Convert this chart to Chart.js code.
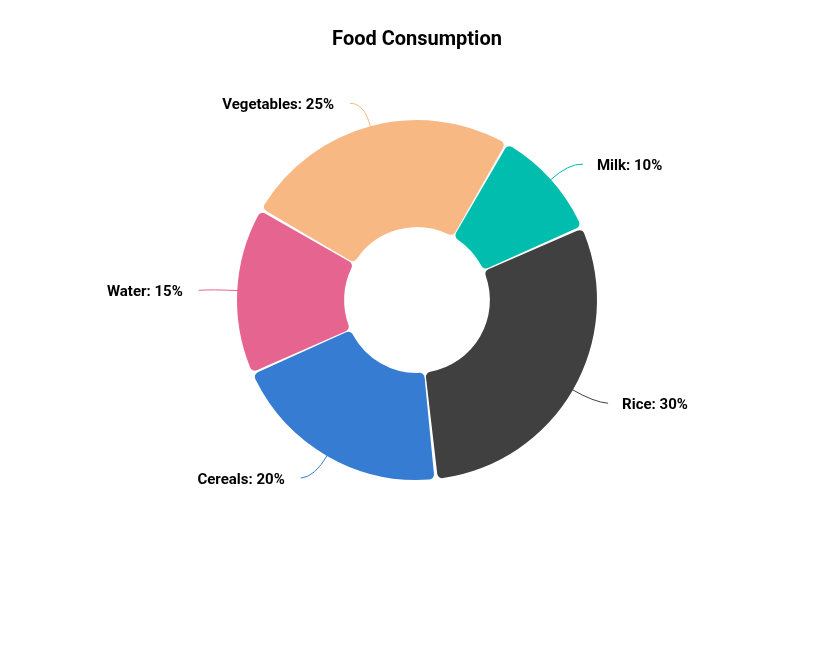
<!DOCTYPE html>
<html><head><meta charset="utf-8">
<script src="https://cdn.jsdelivr.net/npm/chart.js@4.4.1/dist/chart.umd.min.js"></script>
<style>html,body{margin:0;padding:0;background:#fff;}#wrap{width:818px;height:646px;}</style>
</head><body><div id="wrap"><canvas id="c" width="818" height="646"></canvas></div>
<script>
const categories = ['Milk', 'Rice', 'Cereals', 'Water', 'Vegetables'];
const values = [10, 30, 20, 15, 25];
const colors = ['#00BDAE', '#404041', '#357CD2', '#E56590', '#F8B883'];
const titleText = 'Food Consumption';

const labelPlugin = {
  id: 'outsideLabels',
  afterDatasetsDraw(chart) {
    const ctx = chart.ctx;
    const meta = chart.getDatasetMeta(0);
    const total = values.reduce((a, b) => a + b, 0);
    ctx.save();
    meta.data.forEach((arc, i) => {
      const p = arc.getProps(['x', 'y', 'startAngle', 'endAngle', 'outerRadius'], true);
      const mid = (p.startAngle + p.endAngle) / 2;
      const cx = Math.cos(mid), cy = Math.sin(mid);
      const r0 = p.outerRadius;
      const sx = p.x + cx * r0, sy = p.y + cy * r0;
      const ex = p.x + cx * (r0 + 26), ey = p.y + cy * (r0 + 26);
      const right = cx >= 0;
      const fx = ex + (right ? 14 : -14), fy = ey + 1;
      ctx.strokeStyle = colors[i];
      ctx.lineWidth = 1;
      ctx.beginPath();
      ctx.moveTo(sx, sy);
      ctx.quadraticCurveTo(ex, ey, fx, fy);
      ctx.stroke();
      ctx.fillStyle = '#000';
      ctx.font = 'bold 15px Roboto';
      ctx.textBaseline = 'middle';
      ctx.textAlign = right ? 'left' : 'right';
      const pct = Math.round(values[i] / total * 100);
      ctx.fillText(categories[i] + ': ' + pct + '%', fx + (right ? 14 : -16), fy + 2);
    });
    ctx.restore();
  }
};

new Chart(document.getElementById('c'), {
  type: 'doughnut',
  data: {
    labels: categories,
    datasets: [{
      data: values,
      backgroundColor: colors,
      borderWidth: 0,
      spacing: 3,
      borderRadius: 5,
      hoverOffset: 0
    }]
  },
  options: {
    responsive: false,
    animation: false,
    rotation: 30,
    cutout: '40%',
    layout: { padding: { top: 0, bottom: 166, left: 237, right: 221 } },
    plugins: {
      legend: { display: false },
      tooltip: { enabled: false },
      title: {
        display: true,
        text: titleText,
        color: '#000',
        font: { family: 'Roboto', size: 20, weight: 'bold' },
        padding: { top: 28, bottom: 68 }
      }
    }
  },
  plugins: [labelPlugin]
});
</script>
</body></html>
